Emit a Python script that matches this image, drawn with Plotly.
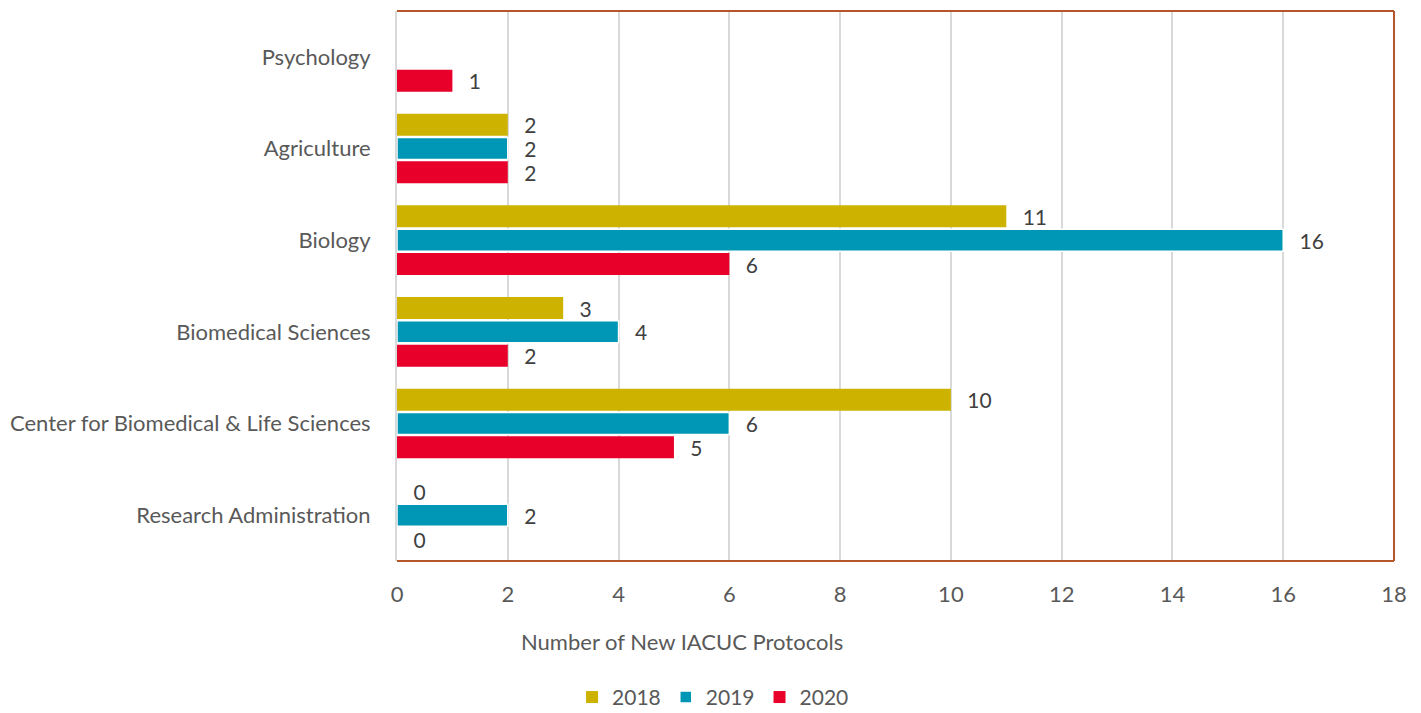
import plotly.graph_objects as go

categories = ["Psychology", "Agriculture", "Biology", "Biomedical Sciences",
              "Center for Biomedical & Life Sciences", "Research Administration"]
v2018 = [None, 2, 11, 3, 10, 0]
v2019 = [None, 2, 16, 4, 6, 2]
v2020 = [1, 2, 6, 2, 5, 0]
series = [("2018", v2018, "#CDB300"), ("2019", v2019, "#0096B5"), ("2020", v2020, "#E8002B")]
x_ticks = [0, 2, 4, 6, 8, 10, 12, 14, 16, 18]
x_title = "Number of New IACUC Protocols"

FONT = "Lato"
FS = 22
PAD = "  \u2009"
fig = go.Figure()
for name, vals, col in series:
    fig.add_trace(go.Bar(
        y=categories, x=vals, name=name, orientation="h",
        marker=dict(color=col, line=dict(color="white", width=1.5 if name == "2019" else 0)),
        text=[("" if v is None else PAD + str(v)) for v in vals],
        textposition="outside", cliponaxis=False, constraintext="none",
        textfont=dict(family=FONT, size=21, color="#404040"),
    ))

fig.update_layout(
    barmode="group", bargap=0.22, bargroupgap=0.08,
    width=1421, height=713,
    margin=dict(l=389, r=35, t=3, b=158),
    plot_bgcolor="white", paper_bgcolor="white",
    font=dict(family=FONT, size=FS, color="#595959"),
    showlegend=True,
    legend=dict(orientation="h", x=0.317, xanchor="center", y=-0.248, yanchor="middle",
                font=dict(family=FONT, size=21, color="#595959"), traceorder="normal"),
    xaxis=dict(range=[0, 18], tickvals=x_ticks, showgrid=True, gridcolor="#D9D9D9", gridwidth=2,
               zeroline=False, ticks="", ticklabelstandoff=18,
               tickfont=dict(size=FS, color="#595959")),
    yaxis=dict(autorange="reversed", showline=True, linecolor="#D9D9D9", linewidth=2,
               ticks="", ticklabelstandoff=20, tickfont=dict(size=FS, color="#595959")),
)
fig.add_annotation(text=x_title, xref="paper", yref="paper", x=0.286, y=-0.147,
                   xanchor="center", yanchor="middle", showarrow=False,
                   font=dict(family=FONT, size=FS, color="#595959"))
border = "#B5562B"
fig.add_shape(type="line", xref="paper", yref="paper", x0=0, x1=1, y0=1, y1=1, line=dict(color=border, width=2))
fig.add_shape(type="line", xref="paper", yref="paper", x0=1, x1=1, y0=0, y1=1, line=dict(color=border, width=2))
fig.add_shape(type="line", xref="paper", yref="paper", x0=0, x1=1, y0=0, y1=0, line=dict(color=border, width=2))

fig.write_html("out.html")
